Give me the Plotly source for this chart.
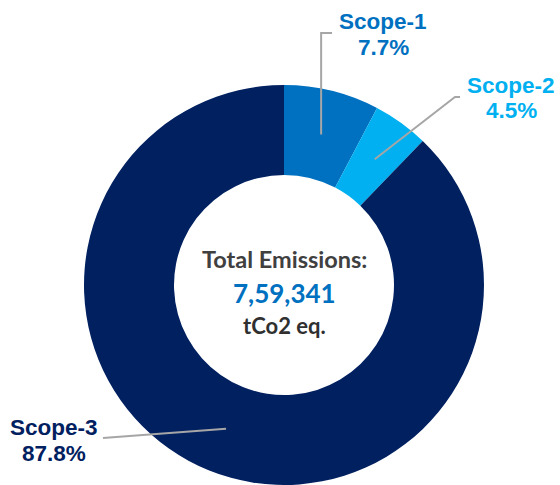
import math
import plotly.graph_objects as go

# Emission shares by scope (percent of total)
scopes = ["Scope-1", "Scope-2", "Scope-3"]
shares = [7.7, 4.5, 87.8]
colors = ["#0070C0", "#00B0F0", "#002060"]
total_emissions = "7,59,341"
unit = "tCo2 eq."

W, H = 560, 485
CX, CY, R = 284, 285, 200   # donut centre and outer radius, px
HOLE = 0.55


def px(x, y):
    """pixel position -> paper coordinates"""
    return x / W, 1 - y / H


fig = go.Figure(go.Pie(
    labels=scopes,
    values=shares,
    hole=HOLE,
    sort=False,
    direction="clockwise",
    rotation=0,
    marker=dict(colors=colors, line=dict(width=0)),
    textinfo="none",
    hoverinfo="label+percent",
    showlegend=False,
    domain=dict(x=[(CX - R) / W, (CX + R) / W],
                y=[(H - CY - R) / H, (H - CY + R) / H]),
))

# label placement (text centre x, first-line y) and leader-line path ends
label_pos = {
    "Scope-1": dict(tx=383, ty=22, path=[(None, 33), (332, 33)]),
    "Scope-2": dict(tx=511, ty=85, path=[(455, 97), (460, 97)]),
    "Scope-3": dict(tx=54, ty=427, path=[(103, 438)]),
}

shapes = []
annotations = []
start = 0.0
tot = sum(shares)
for name, val, col in zip(scopes, shares, colors):
    mid = start + val / tot * 360 / 2
    start += val / tot * 360
    rr = R * (1 + HOLE) / 2
    ax = CX + rr * math.sin(math.radians(mid))
    ay = CY - rr * math.cos(math.radians(mid))
    info = label_pos[name]
    pts = [(ax, ay)]
    for (x, y) in info["path"]:
        pts.append((ax if x is None else x, y))
    d = "M " + " L ".join(f"{px(x, y)[0]},{px(x, y)[1]}" for x, y in pts)
    shapes.append(dict(type="path", path=d, xref="paper", yref="paper",
                       line=dict(color="#A6A6A6", width=2)))
    for i, line in enumerate([name, f"{val}%"]):
        x, y = px(info["tx"], info["ty"] + i * 26)
        annotations.append(dict(
            text=f"<b>{line}</b>", x=x, y=y, xref="paper", yref="paper",
            showarrow=False, xanchor="center", yanchor="middle",
            font=dict(family="Liberation Sans, Arial", size=22.5, color=col)))

# centre text
for txt, yy, col, sz in [("Total Emissions:", 259, "#404040", 23.5),
                         (total_emissions, 293, "#0070C0", 26),
                         (unit, 325, "#303030", 22)]:
    x, y = px(CX, yy)
    annotations.append(dict(
        text=f"<b>{txt}</b>", x=x, y=y, xref="paper", yref="paper",
        showarrow=False, xanchor="center", yanchor="middle",
        font=dict(family="Lato, Calibri, sans-serif", size=sz, color=col)))

fig.update_layout(
    width=W, height=H,
    margin=dict(l=0, r=0, t=0, b=0),
    paper_bgcolor="white", plot_bgcolor="white",
    shapes=shapes, annotations=annotations,
)

fig.write_html("out.html")
